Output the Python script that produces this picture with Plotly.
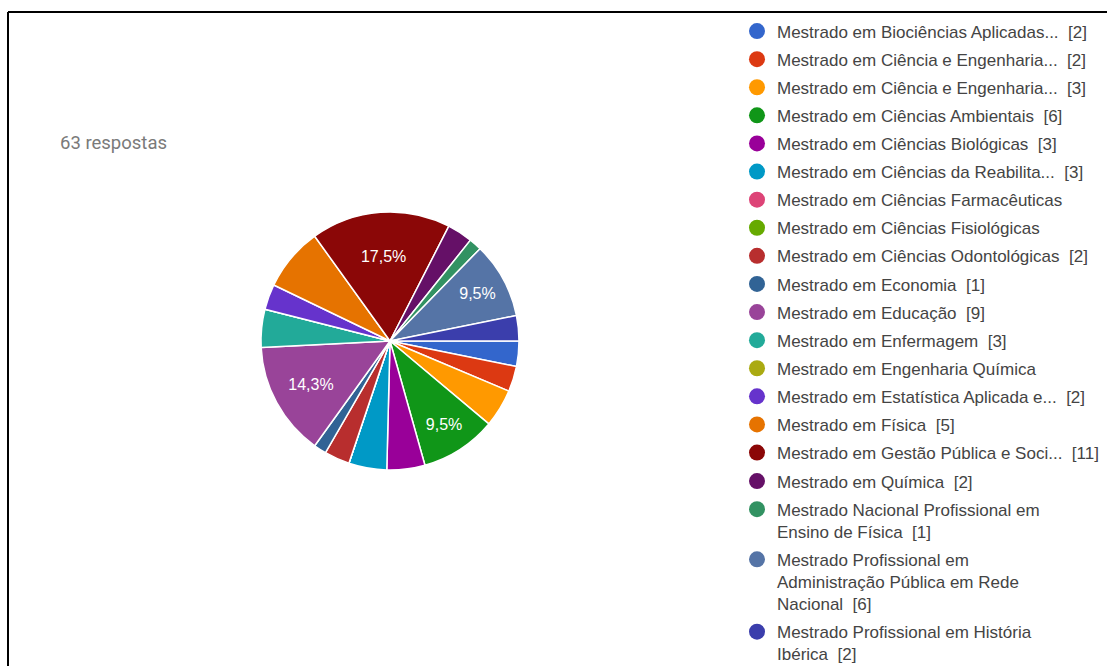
import plotly.graph_objects as go

categories = [
    "Mestrado em Biociências Aplicadas...",
    "Mestrado em Ciência e Engenharia...",
    "Mestrado em Ciência e Engenharia...",
    "Mestrado em Ciências Ambientais",
    "Mestrado em Ciências Biológicas",
    "Mestrado em Ciências da Reabilita...",
    "Mestrado em Ciências Farmacêuticas",
    "Mestrado em Ciências Fisiológicas",
    "Mestrado em Ciências Odontológicas",
    "Mestrado em Economia",
    "Mestrado em Educação",
    "Mestrado em Enfermagem",
    "Mestrado em Engenharia Química",
    "Mestrado em Estatística Aplicada e...",
    "Mestrado em Física",
    "Mestrado em Gestão Pública e Soci...",
    "Mestrado em Química",
    "Mestrado Nacional Profissional em<br>Ensino de Física",
    "Mestrado Profissional em<br>Administração Pública em Rede<br>Nacional",
    "Mestrado Profissional em História<br>Ibérica",
]
counts = [2, 2, 3, 6, 3, 3, 0, 0, 2, 1, 9, 3, 0, 2, 5, 11, 2, 1, 6, 2]
colors = ["#3366CC", "#DC3912", "#FF9900", "#109618", "#990099", "#0099C6",
          "#DD4477", "#66AA00", "#B82E2E", "#316395", "#994499", "#22AA99",
          "#AAAA11", "#6633CC", "#E67300", "#8B0707", "#651067", "#329262",
          "#5574A6", "#3B3EAC"]
total_label = "63 respostas"

total = sum(counts)
slice_text = [(f"{v / total * 100:.1f}".replace(".", ",") + "%") if v / total >= 0.09 else ""
              for v in counts]

W, H = 1107, 666

fig = go.Figure()
fig.add_trace(go.Pie(
    labels=[f"{i}" for i in range(len(categories))],
    values=counts,
    text=slice_text,
    textinfo="text",
    textposition="inside",
    insidetextorientation="horizontal",
    textfont=dict(family="Arial", size=16, color="white"),
    marker=dict(colors=colors, line=dict(color="white", width=1.5)),
    sort=False,
    direction="clockwise",
    rotation=90,
    showlegend=False,
    domain=dict(x=[261 / W, 519 / W], y=[(H - 470) / H, (H - 212) / H]),
    hoverinfo="skip",
))

for i, (name, v, c) in enumerate(zip(categories, counts, colors)):
    label = name + (f"  [{v}]" if v > 0 else "")
    fig.add_trace(go.Scatter(
        x=[None], y=[None], mode="markers", name=label,
        marker=dict(symbol="circle", size=16, color=c),
        legend="legend" if i < 16 else "legend2",
        legendgroup=f"g{i}",
    ))

legend_common = dict(
    font=dict(family="Arial", size=17, color="#444444"),
    bgcolor="rgba(0,0,0,0)",
    xanchor="left", yanchor="top",
    itemclick=False, itemdoubleclick=False,
    tracegroupgap=3,
    valign="top",
)

fig.update_layout(
    width=W, height=H,
    margin=dict(l=0, r=0, t=0, b=0, autoexpand=False),
    paper_bgcolor="white", plot_bgcolor="white",
    xaxis=dict(visible=False, range=[0, 1]),
    yaxis=dict(visible=False, range=[0, 1]),
    legend=dict(x=737 / W, y=1 - 13.5 / H, **legend_common),
    legend2=dict(x=737 / W, y=1 - 463.5 / H, **legend_common),
    annotations=[dict(
        text=total_label, x=58 / W, y=1 - 143 / H, xref="paper", yref="paper",
        xanchor="left", yanchor="middle", showarrow=False,
        font=dict(family="Roboto", size=18.5, color="#7a7a7a"),
    )],
    shapes=[
        dict(type="line", xref="paper", yref="paper", x0=8 / W, x1=1, y0=1 - 12 / H, y1=1 - 12 / H,
             line=dict(color="black", width=2)),
        dict(type="line", xref="paper", yref="paper", x0=8 / W, x1=8 / W, y0=0, y1=1 - 12 / H,
             line=dict(color="black", width=2)),
    ],
)

fig.write_html("out.html")
